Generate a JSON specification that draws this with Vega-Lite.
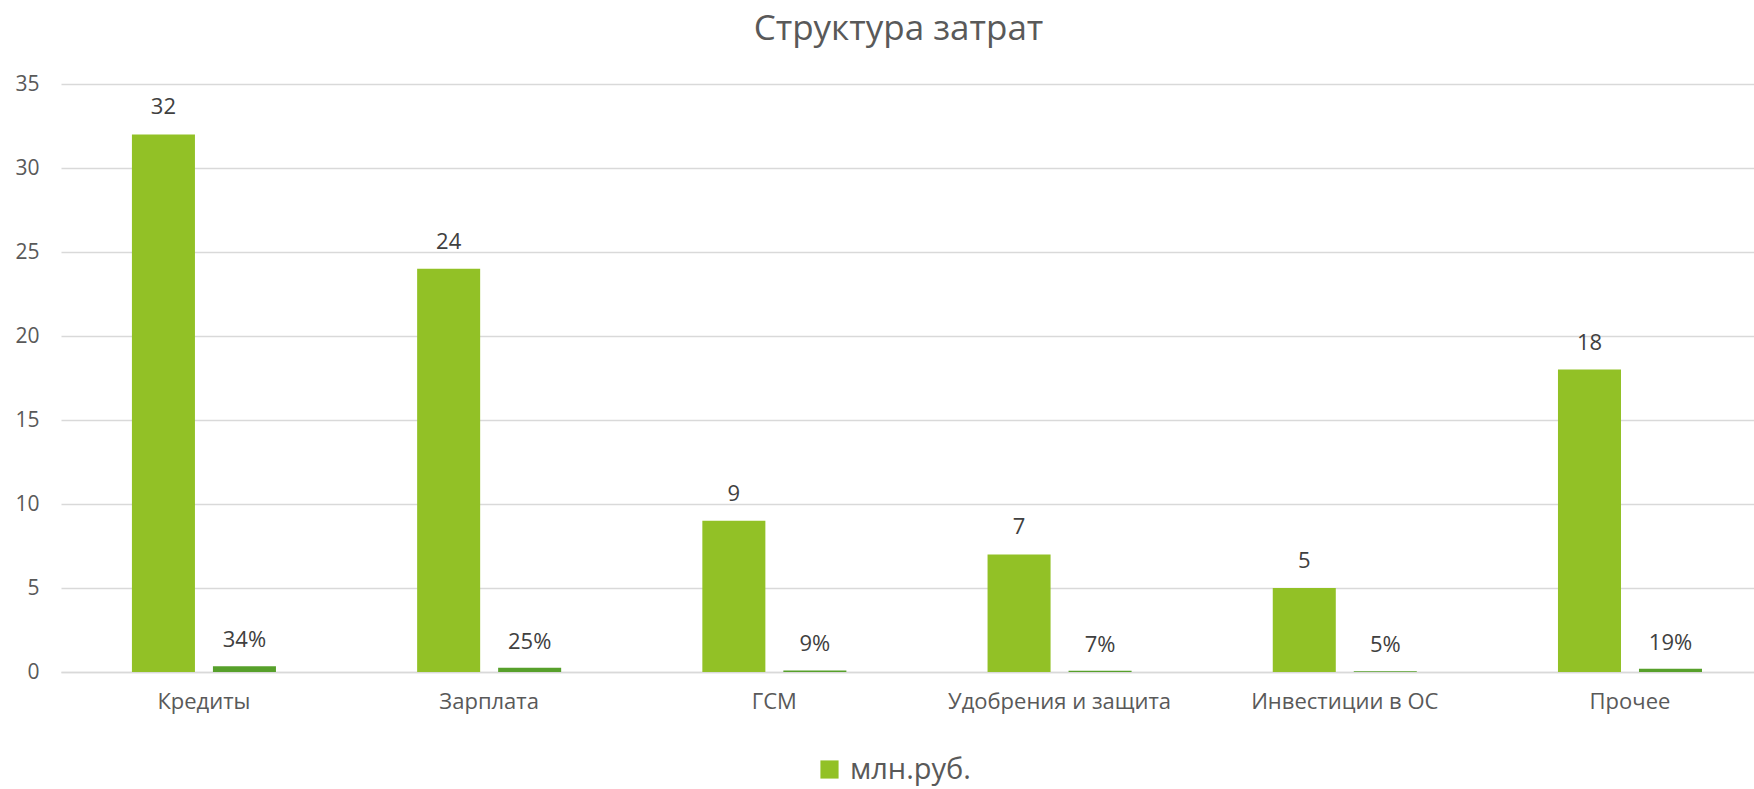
{
  "$schema": "https://vega.github.io/schema/vega-lite/v6.json",
  "width": 1693,
  "height": 588,
  "autosize": {"type": "none"},
  "padding": {"left": 61, "top": 84, "right": 0, "bottom": 117},
  "background": "white",
  "config": {"view": {"stroke": null}, "font": "Open Sans"},
  "title": {"text": "Структура затрат", "fontSize": 35, "font": "Open Sans", "fontWeight": "normal", "color": "#595959", "anchor": "middle", "offset": 26, "dx": -9},
  "data": {"values": [
    {"cat": "Кредиты", "series": "млн.руб.", "value": 32},
    {"cat": "Кредиты", "series": "доля", "value": 0.34},
    {"cat": "Зарплата", "series": "млн.руб.", "value": 24},
    {"cat": "Зарплата", "series": "доля", "value": 0.25},
    {"cat": "ГСМ", "series": "млн.руб.", "value": 9},
    {"cat": "ГСМ", "series": "доля", "value": 0.09},
    {"cat": "Удобрения и защита", "series": "млн.руб.", "value": 7},
    {"cat": "Удобрения и защита", "series": "доля", "value": 0.07},
    {"cat": "Инвестиции в ОС", "series": "млн.руб.", "value": 5},
    {"cat": "Инвестиции в ОС", "series": "доля", "value": 0.05},
    {"cat": "Прочее", "series": "млн.руб.", "value": 18},
    {"cat": "Прочее", "series": "доля", "value": 0.19}
  ]},
  "encoding": {
    "x": {"field": "cat", "type": "nominal", "sort": null,
      "scale": {"paddingInner": 0.495, "paddingOuter": 0.2155, "align": 0.577},
      "axis": {"title": null, "labelAngle": 0, "labelFontSize": 22, "labelColor": "#595959", "labelPadding": 19, "labelLimit": 400, "ticks": false, "domainColor": "#d9d9d9", "domainWidth": 1.5, "labelFont": "Open Sans"}},
    "xOffset": {"field": "series", "type": "nominal", "sort": ["млн.руб.", "доля"], "scale": {"paddingInner": 0.222, "paddingOuter": 0}},
    "y": {"field": "value", "type": "quantitative", "scale": {"domain": [0, 35], "nice": false},
      "axis": {"title": null, "values": [0, 5, 10, 15, 20, 25, 30, 35], "labelFontSize": 21, "labelColor": "#595959", "labelPadding": 22, "ticks": false, "domain": false, "gridColor": "#d9d9d9", "gridWidth": 1.5, "labelFont": "Open Sans"}}
  },
  "layer": [
    {"mark": {"type": "bar"},
     "encoding": {"color": {"field": "series", "type": "nominal",
       "scale": {"domain": ["млн.руб.", "доля"], "range": ["#92C126", "#57A02B"]},
       "legend": {"values": ["млн.руб."], "title": null, "orient": "none", "legendX": 754, "legendY": 671, "symbolType": "square", "symbolSize": 330, "symbolStrokeWidth": 0, "labelFontSize": 29, "labelColor": "#595959", "labelFont": "Open Sans", "labelOffset": 6, "labelLimit": 300, "symbolOpacity": 1}}}},
    {"transform": [{"filter": "datum.series === 'млн.руб.'"}],
     "mark": {"type": "text", "baseline": "bottom", "dy": -15, "fontSize": 22, "color": "#404040", "font": "Open Sans"},
     "encoding": {"text": {"field": "value", "type": "quantitative", "format": "d"}}},
    {"transform": [{"filter": "datum.series === 'доля'"}],
     "mark": {"type": "text", "baseline": "bottom", "dy": -14, "fontSize": 22, "color": "#404040", "font": "Open Sans"},
     "encoding": {"text": {"field": "value", "type": "quantitative", "format": ".0%"}}}
  ]
}
